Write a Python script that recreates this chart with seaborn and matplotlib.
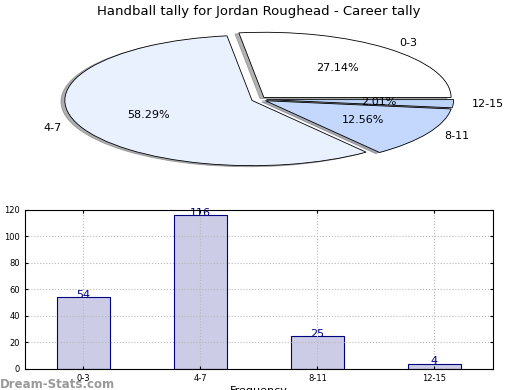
import matplotlib
matplotlib.use("Agg")
import matplotlib.pyplot as plt
import seaborn as sns
import pandas as pd

# data
categories = ["0-3", "4-7", "8-11", "12-15"]
counts = [54, 116, 25, 4]
pie_colors = ["#ffffff", "#eaf1fe", "#c4d8fe", "#bcd4f8"]

sns.set_style("white")
plt.rcParams['font.family'] = ['DejaVu Sans']
plt.rcParams['text.color'] = 'black'
plt.rcParams['axes.labelcolor'] = 'black'
plt.rcParams['xtick.color'] = 'black'
plt.rcParams['ytick.color'] = 'black'

fig = plt.figure(figsize=(5.2, 3.9), dpi=100)

# --- pie (squashed into an ellipse by the wide axes) ---
ax_pie = fig.add_axes([0.048, 0.536, 0.9, 0.418])
wedges, texts, autotexts = ax_pie.pie(
    counts, labels=categories, colors=pie_colors, autopct='%1.2f%%',
    explode=[0.04] * len(counts),
    shadow={"ox": -0.015, "oy": -0.012, "shade": 0.6}, startangle=0,
    wedgeprops={"edgecolor": "black", "linewidth": 0.6},
    textprops={"fontsize": 8, "color": "black"})
ax_pie.set_aspect('auto')
ax_pie.set_xlim(-1.25, 1.25)
ax_pie.set_ylim(-1.25, 1.25)
ax_pie.set_title("Handball tally for Jordan Roughead - Career tally", fontsize=9.5, pad=2)

# --- bar chart ---
df = pd.DataFrame({"interval": categories, "count": counts})
ax_bar = fig.add_axes([0.048, 0.054, 0.9, 0.408])
sns.barplot(x="interval", y="count", data=df, color="#ccccE6", saturation=1,
            width=0.45, edgecolor="navy", linewidth=0.8, ax=ax_bar)
for i, v in enumerate(counts):
    ax_bar.annotate(str(v), (i, v), xytext=(0, -2), textcoords='offset points',
                    ha='center', va='bottom', color='navy', fontsize=8)

ax_bar.set_xlim(-0.5, 3.5)
ax_bar.set_ylim(0, 120)
ax_bar.set_yticks(range(0, 121, 20))
ax_bar.tick_params(axis='both', labelsize=6, length=2, direction='in',
                   top=True, right=True, bottom=True, left=True)
ax_bar.grid(True, linestyle=':', color='#b8b8b8', linewidth=0.8)
ax_bar.set_axisbelow(False)
for s in ax_bar.spines.values():
    s.set_color('black')
    s.set_linewidth(0.8)
    s.set_zorder(5)
ax_bar.set_xlabel("Frequency", fontsize=8, labelpad=2)
ax_bar.set_ylabel("Stat Intervals", fontsize=8, labelpad=4)

fig.text(0.0, 0.005, "Dream-Stats.com", color='#999999', fontsize=8.5, fontweight='bold')

fig.savefig("out.png", dpi=100)
